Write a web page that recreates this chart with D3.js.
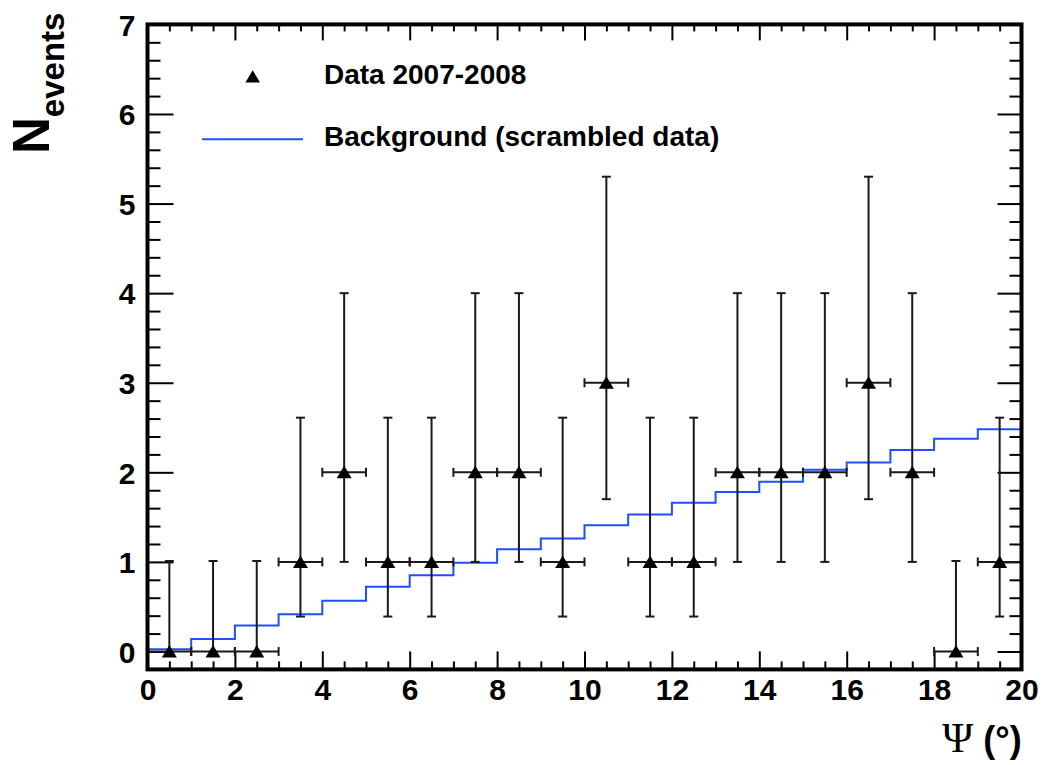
<!DOCTYPE html>
<html>
<head>
<meta charset="utf-8">
<script src="https://cdn.jsdelivr.net/npm/d3@7"></script>
<style>
  html, body { margin: 0; padding: 0; background: #fff; }
  svg { display: block; }
  text { font-family: "Liberation Sans", Arial, sans-serif; font-weight: bold; fill: #000; }
</style>
</head>
<body>
<svg id="chart" width="1043" height="765"></svg>
<script>
// ---- data ----
const binCenters = [0.5,1.5,2.5,3.5,4.5,5.5,6.5,7.5,8.5,9.5,10.5,11.5,12.5,13.5,14.5,15.5,16.5,17.5,18.5,19.5];
const counts     = [0,0,0,1,2,1,1,2,2,1,3,1,1,2,2,2,3,2,0,1];
const errLower   = [0,0,0,0.39,1.0,0.39,0.39,1.0,1.0,0.39,1.70,0.39,0.39,1.0,1.0,1.0,1.70,1.0,0,0.39];
const errUpper   = [1.01,1.01,1.01,2.61,4.0,2.61,2.61,4.0,4.0,2.61,5.30,2.61,2.61,4.0,4.0,4.0,5.30,4.0,1.01,2.61];
const binEdges   = [0,1,2,3,4,5,6,7,8,9,10,11,12,13,14,15,16,17,18,19];
const background = [0.025,0.14,0.29,0.415,0.567,0.723,0.85,0.99,1.14,1.26,1.41,1.53,1.66,1.78,1.895,2.03,2.11,2.25,2.375,2.48];
const xMajorTicks = [0,2,4,6,8,10,12,14,16,18,20];
const yMajorTicks = [0,1,2,3,4,5,6,7];
const legendLabels = ["Data 2007-2008", "Background (scrambled data)"];

// ---- scales ----
const x = d3.scaleLinear().domain([0, 20]).range([147.5, 1021.5]);
const y = d3.scaleLinear().domain([-0.2, 7]).range([669.4, 24.4]);
const svg = d3.select("#chart");

const xMinor = d3.range(0, 20.0001, 0.5).filter(v => !xMajorTicks.includes(v));
const yMinor = d3.range(0, 7.0001, 0.2).map(v => +v.toFixed(2)).filter(v => !yMajorTicks.includes(v));

function styleAxis(g) {
  g.select(".domain").remove();
  g.selectAll(".tick line").attr("stroke", "#000").attr("stroke-width", 2);
}

// bottom axis
svg.append("g").attr("transform", `translate(0,${y.range()[0]})`)
  .call(d3.axisBottom(x).tickValues(xMajorTicks).tickSizeInner(-18).tickSizeOuter(0).tickPadding(0).tickFormat(d3.format("d")))
  .call(styleAxis)
  .call(g => g.selectAll(".tick text").attr("y", 0).attr("dy", "31px").style("font-size", "30px").attr("font-family", null));
svg.append("g").attr("transform", `translate(0,${y.range()[0]})`)
  .call(d3.axisBottom(x).tickValues(xMinor).tickSizeInner(-8).tickSizeOuter(0).tickFormat(""))
  .call(styleAxis);
// top axis
svg.append("g").attr("transform", `translate(0,${y.range()[1]})`)
  .call(d3.axisTop(x).tickValues(xMajorTicks).tickSizeInner(-16).tickSizeOuter(0).tickFormat(""))
  .call(styleAxis);
svg.append("g").attr("transform", `translate(0,${y.range()[1]})`)
  .call(d3.axisTop(x).tickValues(xMinor).tickSizeInner(-7).tickSizeOuter(0).tickFormat(""))
  .call(styleAxis);
// left axis
svg.append("g").attr("transform", `translate(${x.range()[0]},0)`)
  .call(d3.axisLeft(y).tickValues(yMajorTicks).tickSizeInner(-26).tickSizeOuter(0).tickPadding(0).tickFormat(d3.format("d")))
  .call(styleAxis)
  .call(g => g.selectAll(".tick text").attr("x", -12).attr("dy", "0.36em").style("font-size", "30px").attr("font-family", null));
svg.append("g").attr("transform", `translate(${x.range()[0]},0)`)
  .call(d3.axisLeft(y).tickValues(yMinor).tickSizeInner(-13).tickSizeOuter(0).tickFormat(""))
  .call(styleAxis);
// right axis
svg.append("g").attr("transform", `translate(${x.range()[1]},0)`)
  .call(d3.axisRight(y).tickValues(yMajorTicks).tickSizeInner(-24).tickSizeOuter(0).tickFormat(""))
  .call(styleAxis);
svg.append("g").attr("transform", `translate(${x.range()[1]},0)`)
  .call(d3.axisRight(y).tickValues(yMinor).tickSizeInner(-12).tickSizeOuter(0).tickFormat(""))
  .call(styleAxis);

// ---- background histogram (step) ----
const stepPts = [[0, -0.2]].concat(binEdges.map((e, i) => [e, background[i]]));
stepPts.push([20, background[background.length - 1]]);
svg.append("path")
  .attr("d", d3.line().x(d => x(d[0])).y(d => y(d[1])).curve(d3.curveStepAfter)(stepPts))
  .attr("fill", "none").attr("stroke", "#1f4fff").attr("stroke-width", 2);

// ---- data points with error bars ----
const errColor = "#1a1a1a";
const pts = svg.append("g");
binCenters.forEach((c, i) => {
  const cx = x(c), cy = y(counts[i]);
  const xl = x(c - 0.5), xr = x(c + 0.5);
  pts.append("line").attr("x1", xl).attr("x2", xr).attr("y1", cy).attr("y2", cy)
    .attr("stroke", errColor).attr("stroke-width", 2);
  [xl, xr].forEach(xx => pts.append("line").attr("x1", xx).attr("x2", xx).attr("y1", cy - 4.5).attr("y2", cy + 4.5)
    .attr("stroke", errColor).attr("stroke-width", 2));
  const yl = y(errLower[i]), yu = y(errUpper[i]);
  pts.append("line").attr("x1", cx).attr("x2", cx).attr("y1", yl).attr("y2", yu)
    .attr("stroke", errColor).attr("stroke-width", 2);
  pts.append("line").attr("x1", cx - 4.5).attr("x2", cx + 4.5).attr("y1", yu).attr("y2", yu)
    .attr("stroke", errColor).attr("stroke-width", 2);
  if (errLower[i] < counts[i]) {
    pts.append("line").attr("x1", cx - 4.5).attr("x2", cx + 4.5).attr("y1", yl).attr("y2", yl)
      .attr("stroke", errColor).attr("stroke-width", 2);
  }
  pts.append("path").attr("d", `M${cx},${cy - 6.5} L${cx + 7.5},${cy + 6} L${cx - 7.5},${cy + 6} Z`).attr("fill", "#000");
});

// ---- frame ----
svg.append("rect")
  .attr("x", x.range()[0]).attr("y", y.range()[1])
  .attr("width", x.range()[1] - x.range()[0]).attr("height", y.range()[0] - y.range()[1])
  .attr("fill", "none").attr("stroke", "#000").attr("stroke-width", 4);

// ---- legend ----
svg.append("path").attr("d", "M252.7,70.2 L260,82.5 L245.4,82.5 Z").attr("fill", "#000");
svg.append("text").attr("x", 324).attr("y", 84).style("font-size", "28px").text(legendLabels[0]);
svg.append("line").attr("x1", 202).attr("x2", 303).attr("y1", 139.3).attr("y2", 139.3)
  .attr("stroke", "#1f4fff").attr("stroke-width", 2);
svg.append("text").attr("x", 324).attr("y", 146).style("font-size", "28px").text(legendLabels[1]);

// ---- axis titles ----
const yt = svg.append("text").attr("transform", "translate(49.3,154) rotate(-90)");
yt.append("tspan").style("font-size", "51px").text("N");
yt.append("tspan").style("font-size", "33px").attr("dy", 15).text("events");

const xt = svg.append("text").attr("x", 1021.7).attr("y", 752).attr("text-anchor", "end").style("font-size", "36px");
xt.append("tspan").style("font-family", "'Liberation Serif', 'Times New Roman', serif").style("font-weight", "normal").style("font-size", "42px").text("Ψ");
xt.append("tspan").text(" (°)");
</script>
</body>
</html>
